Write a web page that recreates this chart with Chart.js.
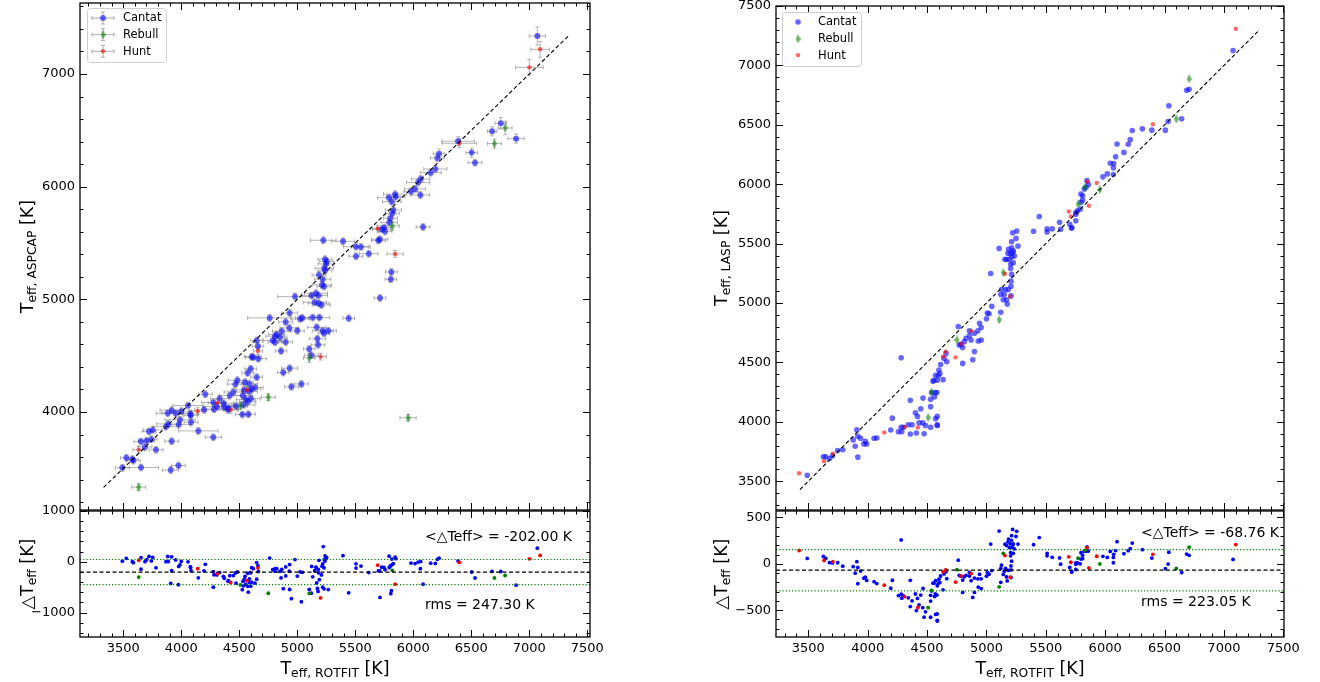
<!DOCTYPE html>
<html>
<head>
<meta charset="utf-8">
<script src="https://cdn.jsdelivr.net/npm/chart.js"></script>
<style>
  body { margin: 0; background: #fff; width: 1320px; height: 682px; overflow: hidden; position: relative; }
  canvas { position: absolute; }
</style>
</head>
<body>
<canvas id="lt" width="600" height="523" style="left:0px;top:-8px"></canvas>
<canvas id="lb" width="610" height="187" style="left:0px;top:495px"></canvas>
<canvas id="rt" width="630" height="523" style="left:690px;top:-8px"></canvas>
<canvas id="rb" width="630" height="187" style="left:690px;top:495px"></canvas>
<script>
// ---- ASPCAP vs ROTFIT (left) ----
const aspCantatX = [7069,6754,6679,6886,6386,6503,6532,6222,6207,6190,
  6150,6064,6041,6015,5980,6061,6084,5843,5849,5791,
  5814,5828,5819,5802,5793,5748,5728,5756,5699,5711,
  5224,5394,5506,5549,5616,5506,5239,5253,5248,5233,
  5239,5811,5806,5713,5443,5187,5219,5213,5230,5161,
  5124,5181,4980,5150,5184,5208,4934,4762,4900,5024,
  5043,5133,5190,4931,5000,5167,5219,5267,5230,4866,
  4823,4808,4851,4788,4808,4900,4650,4661,4860,5173,
  5179,5103,5121,4607,4621,4664,4598,4572,4650,4934,
  4879,5035,4949,4483,4466,4549,4587,4449,4418,4543,
  4587,4607,4636,4532,4556,4599,4573,4207,4331,4363,
  4276,4306,4282,4371,4406,4472,4535,4196,4058,4403,
  4526,4578,3917,3883,3952,4000,4078,4081,3989,3978,
  4084,3888,3868,3754,3722,4147,4276,3653,3702,3742,
  3687,3917,3782,3526,3578,3587,3653,3492,3975,3909];
const aspCantatY = [7337,6563,6491,6426,6403,6302,6213,6293,6255,6157,
  6124,6068,6036,5980,5956,5926,5642,5933,5911,5902,
  5867,5793,5764,5720,5681,5636,5622,5601,5521,5533,
  5524,5515,5467,5465,5405,5382,5356,5335,5314,5276,
  5255,5243,5178,5012,4832,5216,5178,5128,5113,5054,
  5033,5033,5024,4974,4965,4950,4879,4835,4799,4826,
  4835,4838,4838,4746,4720,4752,4720,4720,4699,4717,
  4688,4673,4664,4634,4620,4622,4634,4584,4542,4649,
  4596,4560,4504,4491,4486,4473,4383,4347,4309,4389,
  4350,4249,4223,4282,4247,4264,4249,4178,4146,4196,
  4181,4205,4217,4146,4110,4119,4090,4158,4119,4078,
  4084,4048,4025,4045,4034,4054,4063,4019,4057,4019,
  3977,3980,4016,3989,3989,4007,3983,3968,3930,3888,
  3909,3894,3870,3841,3826,3832,3776,3737,3744,3759,
  3690,3741,3664,3593,3581,3569,3507,3504,3525,3484];
const aspCantatXErr = [70,50,40,70,140,50,60,50,60,100,
  90,80,100,90,60,80,60,100,80,100,
  80,70,60,60,70,60,80,60,60,70,
  110,100,110,80,80,60,60,60,70,80,
  60,50,50,50,50,60,70,80,60,100,
  90,80,150,100,90,80,70,190,60,80,
  60,80,90,80,60,80,90,70,50,80,
  70,80,60,80,60,60,50,50,50,70,
  60,50,60,60,70,70,50,50,50,70,
  50,60,60,80,70,70,70,80,90,70,
  70,80,70,80,80,80,70,60,80,90,
  100,110,90,100,80,100,100,80,130,90,
  60,60,100,100,120,90,70,60,130,100,
  60,100,110,80,60,170,70,60,70,50,
  60,60,60,50,50,60,150,60,60,70];
const aspCantatYErr = [80,50,40,40,40,40,30,40,30,30,
  30,30,30,30,30,30,30,30,30,30,
  30,30,30,30,30,30,30,30,30,30,
  30,30,30,30,30,30,30,30,30,30,
  30,30,30,30,30,30,30,30,30,30,
  30,30,30,30,30,30,30,30,30,30,
  30,30,30,30,30,30,30,30,30,30,
  30,30,30,30,30,30,30,30,30,30,
  30,30,30,30,30,30,30,30,30,30,
  30,30,30,30,30,30,30,30,30,30,
  30,30,30,30,30,30,30,30,30,30,
  30,30,30,30,30,30,30,30,30,30,
  30,30,30,30,30,30,30,30,30,30,
  30,30,30,30,30,30,30,30,30,30,
  30,30,30,30,30,30,30,30,30,30];
const aspRebullX = [3633,4509,4750,5103,5819,5955,6699,6791];
const aspRebullY = [3333,4054,4131,4480,5651,3948,6382,6521];
const aspRebullXErr = [60,60,60,50,60,70,60,60];
const aspRebullYErr = [30,30,30,40,40,30,40,60];
const aspHuntX = [7093,7000,6397,5843,5693,5201,4661,4564,4426,4311,4142,3633];
const aspHuntY = [7219,7059,6385,5403,5627,4491,4542,4196,4019,4081,4007,3664];
const aspHuntXErr = [80,120,150,70,60,50,40,40,60,80,70,50];
const aspHuntYErr = [70,70,40,30,30,30,30,30,30,30,30,30];
const aspMean = -202.00, aspRms = 247.30;
const aspOneToOne = [3330, 7340];

// ---- LASP vs ROTFIT (right) ----
const laspCantatX = [7077,6686,6707,6536,6530,6644,6507,6393,6313,6228,
  6211,6194,6100,6158,6088,6043,6072,6069,6069,6018,
  5981,5847,5859,5839,5824,5796,5810,5810,5796,5790,
  5767,5753,5753,5719,5753,5445,5616,5554,5511,5511,
  5625,5702,5717,5397,5107,5181,5212,5255,5221,5212,
  5249,5266,5226,5214,5169,5186,5200,5223,5235,5193,
  5156,5204,5226,5204,5212,5036,5207,5207,5184,5127,
  5161,5121,5150,5169,5142,5175,5207,5045,5121,5008,
  5022,5000,4956,4942,4928,4899,4857,4857,4871,4828,
  4814,4785,4800,4771,4956,4931,4899,4885,4800,4763,
  4660,4643,4666,4614,4600,4608,4572,4595,4558,4586,
  4635,4550,4569,4583,4538,4563,4530,4530,4586,4572,
  4586,4282,4466,4447,4402,4419,4359,4208,4433,4464,
  4487,4530,4586,4374,4342,4301,4282,4259,4287,4359,
  4410,4475,4194,4077,4054,3980,3992,3940,3917,3909,
  3878,3895,3917,3968,3790,3747,3704,3678,3627,3647,
  3491];
const laspCantatY = [7125,6791,6799,6661,6528,6550,6455,6455,6466,6452,
  6375,6336,6339,6268,6231,6177,6175,6138,6081,6087,
  6062,6030,5997,5974,5960,5917,5903,5866,5847,5790,
  5776,5748,5692,5635,5762,5728,5680,5624,5624,5598,
  5621,5663,5629,5604,5460,5418,5465,5606,5592,5516,
  5544,5479,5440,5389,5367,5453,5416,5425,5396,5368,
  5368,5326,5340,5291,5241,5249,5184,5141,5113,5113,
  5113,5071,5071,5028,5028,4991,5060,4972,4922,4916,
  4910,4867,4794,4830,4766,4746,4766,4726,4689,4703,
  4675,4652,4625,4647,4689,4681,4591,4523,4492,4803,
  4576,4534,4506,4483,4435,4406,4392,4387,4350,4350,
  4355,4342,4246,4246,4246,4210,4190,4128,4046,4026,
  3975,4540,4200,4110,4077,4046,4181,4031,3991,3991,
  3969,3954,3969,3975,3975,3954,3954,3917,3917,3898,
  3906,3900,3931,3864,3862,3836,3813,3862,3878,3932,
  3848,3794,3703,3813,3765,3759,3714,3691,3706,3706,
  3550];
const laspRebullX = [6707,6599,5830,5955,5772,5142,5107,4752,4538,4509];
const laspRebullY = [6887,6550,5974,5954,5833,5256,4859,4689,4251,4036];
const laspHuntX = [7100,6402,5847,5929,5863,5694,5711,5156,5200,4871,4785,4740,4657,4635,4311,4423,4140,3423,3633,3707];
const laspHuntY = [7308,6505,6022,6011,5819,5770,5728,5246,5056,4766,4656,4543,4591,4549,3958,3952,3910,3567,3669,3731];
const laspMean = -68.76, laspRms = 223.05;
const laspOneToOne = [3430, 7300];

// ---- ticks ----
const xTicks = [3500,4000,4500,5000,5500,6000,6500,7000,7500];
const aspYTicks = [4000,5000,6000,7000];
const aspResTicks = [-1000,0,1000];
const laspYTicks = [3500,4000,4500,5000,5500,6000,6500,7000,7500];
const laspResTicks = [-500,0,500];
const seriesNames = ['Cantat','Rebull','Hunt'];

const FONT = 'DejaVu Sans';
const BLUE = 'rgba(10,10,255,0.62)', GREEN = 'rgba(0,128,0,0.6)', RED = 'rgba(255,0,0,0.6)';

function pts(X, Y) { return X.map((x, i) => ({x: x, y: Y[i]})); }
function resid(X, Y) { return X.map((x, i) => ({x: x, y: Y[i] - x})); }

function thinDiamond(w, h, color) {
  const c = document.createElement('canvas');
  c.width = w; c.height = h;
  const g = c.getContext('2d');
  g.fillStyle = color;
  g.beginPath();
  g.moveTo(w / 2, 0); g.lineTo(w, h / 2); g.lineTo(w / 2, h); g.lineTo(0, h / 2);
  g.closePath(); g.fill();
  return c;
}
const greenDiamond = thinDiamond(5, 9, GREEN);

function minus(v) { return String(v).replace('-', '\u2212'); }

// matplotlib-like frame with inward ticks on all sides
function axesPlugin(o) {
  return {
    id: 'mplAxes',
    afterDatasetsDraw(chart) {
      const {ctx, chartArea: a, scales: {x, y}} = chart;
      ctx.save();
      ctx.strokeStyle = '#000';
      ctx.lineWidth = 1;
      ctx.beginPath();
      for (let v = Math.ceil(x.min / o.xMinor) * o.xMinor; v <= x.max; v += o.xMinor) {
        const len = o.xMajor.includes(v) ? 7 : 3.5;
        const p = Math.round(x.getPixelForValue(v)) + 0.5;
        ctx.moveTo(p, a.bottom); ctx.lineTo(p, a.bottom - len);
        ctx.moveTo(p, a.top); ctx.lineTo(p, a.top + len);
      }
      for (let v = Math.ceil(y.min / o.yMinor) * o.yMinor; v <= y.max; v += o.yMinor) {
        const len = o.yMajor.includes(v) ? 7 : 3.5;
        const p = Math.round(y.getPixelForValue(v)) + 0.5;
        ctx.moveTo(a.left, p); ctx.lineTo(a.left + len, p);
        ctx.moveTo(a.right, p); ctx.lineTo(a.right - len, p);
      }
      ctx.stroke();
      ctx.lineWidth = 1.3;
      ctx.strokeRect(a.left, a.top, a.right - a.left, a.bottom - a.top);
      ctx.restore();
    }
  };
}

function errorBarPlugin(sets) {
  return {
    id: 'errbars',
    beforeDatasetsDraw(chart) {
      const {ctx, chartArea: a, scales: {x: sx, y: sy}} = chart;
      ctx.save();
      ctx.beginPath(); ctx.rect(a.left, a.top, a.right - a.left, a.bottom - a.top); ctx.clip();
      ctx.strokeStyle = 'rgba(120,120,120,0.55)';
      ctx.lineWidth = 1;
      sets.forEach(s => s.x.forEach((xv, i) => {
        const yv = s.y[i];
        const px = sx.getPixelForValue(xv), py = sy.getPixelForValue(yv);
        const x0 = sx.getPixelForValue(xv - s.ex[i]), x1 = sx.getPixelForValue(xv + s.ex[i]);
        const y0 = sy.getPixelForValue(yv - s.ey[i]), y1 = sy.getPixelForValue(yv + s.ey[i]);
        ctx.beginPath();
        ctx.moveTo(x0, py); ctx.lineTo(x1, py);
        ctx.moveTo(px, y0); ctx.lineTo(px, y1);
        ctx.moveTo(x0, py - 2); ctx.lineTo(x0, py + 2);
        ctx.moveTo(x1, py - 2); ctx.lineTo(x1, py + 2);
        ctx.moveTo(px - 2, y0); ctx.lineTo(px + 2, y0);
        ctx.moveTo(px - 2, y1); ctx.lineTo(px + 2, y1);
        ctx.stroke();
      }));
      ctx.restore();
    }
  };
}

function legendPlugin(box, rows, withErr) {
  return {
    id: 'mplLegend',
    afterDraw(chart) {
      const ctx = chart.ctx, a = chart.chartArea;
      const bx = a.left + box.x, by = a.top + box.y;
      ctx.save();
      ctx.fillStyle = 'rgba(255,255,255,0.8)';
      ctx.strokeStyle = '#cfcfcf';
      ctx.lineWidth = 1;
      ctx.beginPath();
      ctx.roundRect(bx + 0.5, by + 0.5, box.w, box.h, 3);
      ctx.fill(); ctx.stroke();
      rows.forEach((r, i) => {
        const mx = a.left + box.mx, my = a.top + box.ry[i];
        if (withErr) {
          ctx.strokeStyle = 'rgba(120,120,120,0.6)';
          ctx.beginPath();
          ctx.moveTo(mx - 11, my); ctx.lineTo(mx + 11, my);
          ctx.moveTo(mx - 11, my - 2); ctx.lineTo(mx - 11, my + 2);
          ctx.moveTo(mx + 11, my - 2); ctx.lineTo(mx + 11, my + 2);
          ctx.moveTo(mx, my - 6); ctx.lineTo(mx, my + 6);
          ctx.moveTo(mx - 2, my - 6); ctx.lineTo(mx + 2, my - 6);
          ctx.moveTo(mx - 2, my + 6); ctx.lineTo(mx + 2, my + 6);
          ctx.stroke();
        }
        if (r.img) {
          ctx.drawImage(r.img, mx - r.img.width / 2, my - r.img.height / 2);
        } else {
          ctx.fillStyle = r.color;
          ctx.beginPath(); ctx.arc(mx, my, r.r, 0, Math.PI * 2); ctx.fill();
        }
        ctx.fillStyle = '#000';
        ctx.font = '11.5px "' + FONT + '"';
        ctx.textBaseline = 'middle';
        ctx.textAlign = 'left';
        ctx.fillText(r.label, a.left + box.tx, my + 0.5);
      });
      ctx.restore();
    }
  };
}

function teffLabel(ctx, cx, cy, pre, sub, rot) {
  ctx.save();
  ctx.translate(cx, cy);
  if (rot) ctx.rotate(-Math.PI / 2);
  const big = '17.5px "' + FONT + '"', small = '12.3px "' + FONT + '"';
  ctx.font = big; const w1 = ctx.measureText(pre + 'T').width;
  ctx.font = small; const w2 = ctx.measureText(sub).width;
  ctx.font = big; const w3 = ctx.measureText(' [K]').width;
  let x = -(w1 + w2 + w3) / 2;
  ctx.fillStyle = '#000';
  ctx.textBaseline = 'alphabetic';
  ctx.textAlign = 'left';
  ctx.font = big; ctx.fillText(pre + 'T', x, 6.5); x += w1;
  ctx.font = small; ctx.fillText(sub, x, 10.3); x += w2;
  ctx.font = big; ctx.fillText(' [K]', x, 6.5);
  ctx.restore();
}

function labelsPlugin(fn) {
  return { id: 'labels', afterDraw(chart) { fn(chart.ctx, chart.chartArea); } };
}

function scaleCfg(min, max, ticks, showLabels, size, isX) {
  return {
    type: 'linear', min: min, max: max,
    grid: {display: false, drawTicks: false},
    border: {display: false},
    ticks: {display: showLabels, color: '#000', padding: isX ? 4 : 5,
      font: {family: FONT, size: 13}, callback: v => minus(v)},
    afterBuildTicks: ax => { ax.ticks = ticks.map(v => ({value: v})); },
    afterFit: ax => {
      if (isX) ax.height = size; else ax.width = size;
      ax.paddingTop = 0; ax.paddingBottom = 0; ax.paddingLeft = 0; ax.paddingRight = 0;
    }
  };
}

function lineSet(x0, x1, y0, y1, color, dash, w) {
  return {type: 'scatter', showLine: true, data: [{x: x0, y: y0}, {x: x1, y: y1}],
    borderColor: color, borderWidth: w, borderDash: dash, pointRadius: 0, order: 0};
}

function statText(ctx, a, dx, y1, y2, mean, rms) {
  ctx.save();
  ctx.fillStyle = '#000'; ctx.font = '14px "' + FONT + '"';
  ctx.textBaseline = 'middle'; ctx.textAlign = 'left';
  ctx.fillText('<\u25B3Teff> = ' + mean.toFixed(2) + ' K', a.left + dx, a.top + y1);
  ctx.fillText('rms = ' + rms.toFixed(2) + ' K', a.left + dx, a.top + y2);
  ctx.restore();
}

function makeChart(id, datasets, scales, padding, plugins) {
  return new Chart(document.getElementById(id), {
    type: 'scatter',
    data: {datasets: datasets},
    options: {
      responsive: false, animation: false, events: [],
      layout: {padding: padding},
      plugins: {legend: {display: false}, tooltip: {enabled: false}},
      scales: scales
    },
    plugins: plugins
  });
}

// ---- left top ----
makeChart('lt', [
  lineSet(aspOneToOne[0], aspOneToOne[1], aspOneToOne[0], aspOneToOne[1], '#000', [4, 2.5], 1.1),
  {label: seriesNames[2], data: pts(aspHuntX, aspHuntY), pointRadius: 2.2, backgroundColor: RED, borderWidth: 0, order: 1},
  {label: seriesNames[1], data: pts(aspRebullX, aspRebullY), pointStyle: greenDiamond, pointRadius: 4, order: 2},
  {label: seriesNames[0], data: pts(aspCantatX, aspCantatY), pointRadius: 3, backgroundColor: BLUE, borderWidth: 0, order: 3}
], {
  x: scaleCfg(3127, 7523, xTicks, false, 0, true),
  y: scaleCfg(3130, 7630, aspYTicks, true, 80, false)
}, {top: 11, right: 10, bottom: 4, left: 0}, [
  errorBarPlugin([
    {x: aspCantatX, y: aspCantatY, ex: aspCantatXErr, ey: aspCantatYErr},
    {x: aspRebullX, y: aspRebullY, ex: aspRebullXErr, ey: aspRebullYErr},
    {x: aspHuntX, y: aspHuntY, ex: aspHuntXErr, ey: aspHuntYErr}
  ]),
  axesPlugin({xMinor: 100, yMinor: 200, xMajor: xTicks, yMajor: aspYTicks}),
  legendPlugin({x: 7, y: 5, w: 79, h: 54, mx: 23, tx: 43, ry: [15, 31.7, 48.3]}, [
    {label: seriesNames[0], color: BLUE, r: 3},
    {label: seriesNames[1], img: greenDiamond},
    {label: seriesNames[2], color: RED, r: 2.2}
  ], true),
  labelsPlugin((ctx, a) => teffLabel(ctx, a.left - 54, (a.top + a.bottom) / 2, '', 'eff, ASPCAP', true))
]);

// ---- left bottom ----
makeChart('lb', [
  lineSet(3127, 7523, aspMean, aspMean, '#000', [4, 2.5], 1.2),
  lineSet(3127, 7523, aspMean + aspRms, aspMean + aspRms, 'green', [1.2, 2], 1.2),
  lineSet(3127, 7523, aspMean - aspRms, aspMean - aspRms, 'green', [1.2, 2], 1.2),
  {data: resid(aspHuntX, aspHuntY), pointRadius: 1.9, backgroundColor: 'red', borderWidth: 0, order: 1},
  {data: resid(aspRebullX, aspRebullY), pointRadius: 1.9, backgroundColor: 'green', borderWidth: 0, order: 2},
  {data: resid(aspCantatX, aspCantatY), pointRadius: 1.9, backgroundColor: 'blue', borderWidth: 0, order: 3}
], {
  x: scaleCfg(3127, 7523, xTicks, true, 45, true),
  y: scaleCfg(-1480, 1000, aspResTicks, true, 80, false)
}, {top: 16, right: 20, bottom: 0, left: 0}, [
  axesPlugin({xMinor: 100, yMinor: 200, xMajor: xTicks, yMajor: aspResTicks}),
  labelsPlugin((ctx, a) => {
    teffLabel(ctx, a.left - 54, (a.top + a.bottom) / 2, '\u25B3', 'eff', true);
    teffLabel(ctx, (a.left + a.right) / 2, a.bottom + 30, '', 'eff, ROTFIT', false);
    statText(ctx, a, 345, 26, 94, aspMean, aspRms);
  })
]);

// ---- right top ----
makeChart('rt', [
  lineSet(laspOneToOne[0], laspOneToOne[1], laspOneToOne[0], laspOneToOne[1], '#000', [4, 2.5], 1.1),
  {label: seriesNames[2], data: pts(laspHuntX, laspHuntY), pointRadius: 2.2, backgroundColor: RED, borderWidth: 0, order: 1},
  {label: seriesNames[1], data: pts(laspRebullX, laspRebullY), pointStyle: greenDiamond, pointRadius: 4, order: 2},
  {label: seriesNames[0], data: pts(laspCantatX, laspCantatY), pointRadius: 2.8, backgroundColor: BLUE, borderWidth: 0, order: 3}
], {
  x: scaleCfg(3228, 7506, xTicks, false, 0, true),
  y: scaleCfg(3258, 7500, laspYTicks, true, 86, false)
}, {top: 14, right: 36, bottom: 4, left: 0}, [
  axesPlugin({xMinor: 100, yMinor: 100, xMajor: xTicks, yMajor: laspYTicks}),
  legendPlugin({x: 6, y: 6, w: 79, h: 54, mx: 22, tx: 42, ry: [16, 32.9, 49.1]}, [
    {label: seriesNames[0], color: BLUE, r: 2.8},
    {label: seriesNames[1], img: greenDiamond},
    {label: seriesNames[2], color: RED, r: 2.2}
  ], false),
  labelsPlugin((ctx, a) => teffLabel(ctx, a.left - 56, (a.top + a.bottom) / 2, '', 'eff, LASP', true))
]);

// ---- right bottom ----
makeChart('rb', [
  lineSet(3228, 7506, laspMean, laspMean, '#000', [4, 2.5], 1.2),
  lineSet(3228, 7506, laspMean + laspRms, laspMean + laspRms, 'green', [1.2, 2], 1.2),
  lineSet(3228, 7506, laspMean - laspRms, laspMean - laspRms, 'green', [1.2, 2], 1.2),
  {data: resid(laspHuntX, laspHuntY), pointRadius: 1.9, backgroundColor: 'red', borderWidth: 0, order: 1},
  {data: resid(laspRebullX, laspRebullY), pointRadius: 1.9, backgroundColor: 'green', borderWidth: 0, order: 2},
  {data: resid(laspCantatX, laspCantatY), pointRadius: 1.9, backgroundColor: 'blue', borderWidth: 0, order: 3}
], {
  x: scaleCfg(3228, 7506, xTicks, true, 45, true),
  y: scaleCfg(-789, 570, laspResTicks, true, 86, false)
}, {top: 16, right: 36, bottom: 0, left: 0}, [
  axesPlugin({xMinor: 100, yMinor: 100, xMajor: xTicks, yMajor: laspResTicks}),
  labelsPlugin((ctx, a) => {
    teffLabel(ctx, a.left - 56, (a.top + a.bottom) / 2, '\u25B3', 'eff', true);
    teffLabel(ctx, (a.left + a.right) / 2, a.bottom + 30, '', 'eff, ROTFIT', false);
    statText(ctx, a, 365, 22, 91, laspMean, laspRms);
  })
]);
</script>
</body>
</html>
